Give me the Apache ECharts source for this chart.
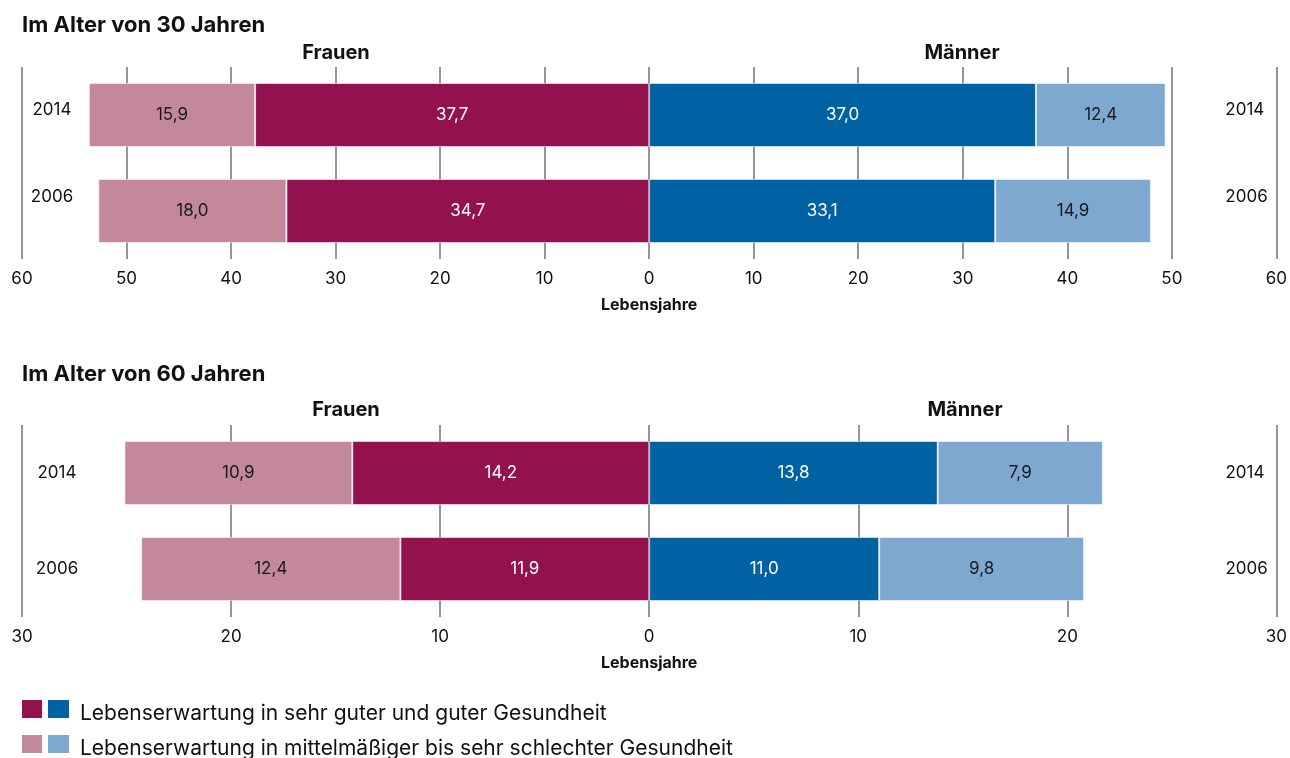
<!DOCTYPE html>
<html><head><meta charset="utf-8">
<script src="https://cdn.jsdelivr.net/npm/echarts@6/dist/echarts.min.js"></script>
<style>html,body{margin:0;padding:0;background:#fff}#c{width:1290px;height:758px}</style>
</head><body><div id="c"></div>
<script>
// ---- data ----
const years = ['2014', '2006'];
const women30Good = [37.7, 34.7];
const women30Poor = [15.9, 18.0];
const men30Good = [37.0, 33.1];
const men30Poor = [12.4, 14.9];
const women60Good = [14.2, 11.9];
const women60Poor = [10.9, 12.4];
const men60Good = [13.8, 11.0];
const men60Poor = [7.9, 9.8];
const titles = ['Im Alter von 30 Jahren', 'Im Alter von 60 Jahren'];
const sexes = ['Frauen', 'Männer'];
const axisName = 'Lebensjahre';
const legendLabels = ['Lebenserwartung in sehr guter und guter Gesundheit',
  'Lebenserwartung in mittelmäßiger bis sehr schlechter Gesundheit'];

// ---- style ----
const FONT = 'Inter';
const NUM = 17;
const C_FG = '#93114F', C_FP = '#C4889C', C_MG = '#0061A3', C_MP = '#7FA8D0';
const fmt = v => Math.abs(v).toFixed(1).replace('.', ',');
const neg = a => a.map(v => -v);

const chart = echarts.init(document.getElementById('c'));

function xAxis(grid, lim) {
  return {
    type: 'value', gridIndex: grid, min: -lim, max: lim, interval: 10,
    axisLine: {show: false}, axisTick: {show: false},
    axisLabel: {formatter: v => String(Math.abs(v)), fontFamily: FONT, fontSize: NUM, color: '#111', margin: 11},
    splitLine: {show: true, lineStyle: {color: '#959595', width: 2}},
    name: axisName, nameLocation: 'middle', nameGap: 38,
    nameTextStyle: {fontFamily: FONT, fontWeight: 'bold', fontSize: 16, color: '#111'}
  };
}
function yAxes(grid, leftMargin, richTop) {
  const lab = richTop
    ? {formatter: v => v === '2014' ? '{a|' + v + '}' : '{b|' + v + '}',
       rich: {a: {padding: [0, 0, 10, 0], fontFamily: FONT, fontSize: NUM, color: '#111'},
              b: {padding: [0, 0, 28, 0], fontFamily: FONT, fontSize: NUM, color: '#111'}}}
    : {};
  return [
    Object.assign({type: 'category', gridIndex: grid, data: years, inverse: true, position: 'left',
      axisLine: {show: false}, axisTick: {show: false}, splitLine: {show: false},
      axisLabel: Object.assign({inside: true, align: 'center', margin: leftMargin, fontFamily: FONT, fontSize: NUM, color: '#111'}, lab)}),
    Object.assign({type: 'category', gridIndex: grid, data: years, inverse: true, position: 'right',
      axisLine: {show: false}, axisTick: {show: false}, splitLine: {show: false},
      axisLabel: Object.assign({inside: true, align: 'left', margin: 51, fontFamily: FONT, fontSize: NUM, color: '#111'}, lab)})
  ];
}
function bar(name, data, color, lblColor, xi, yi, stack) {
  return {
    type: 'bar', name, data, stack, xAxisIndex: xi, yAxisIndex: yi,
    barCategoryGap: '33.3%',
    itemStyle: {color, borderColor: 'rgba(255,255,255,0.55)', borderWidth: 1},
    label: {show: true, position: 'inside', formatter: p => fmt(p.value), fontFamily: FONT, fontSize: NUM, color: lblColor},
    emphasis: {disabled: true}, silent: true
  };
}

const legendGraphics = [];
const legendColors = [[C_FG, C_MG], [C_FP, C_MP]];
legendLabels.forEach((t, i) => {
  const y = 700 + i * 35;
  legendGraphics.push({type: 'rect', left: 22, top: y, shape: {width: 20, height: 18}, style: {fill: legendColors[i][0]}});
  legendGraphics.push({type: 'rect', left: 48, top: y, shape: {width: 21, height: 18}, style: {fill: legendColors[i][1]}});
  legendGraphics.push({type: 'text', left: 80, top: y + 3, style: {text: t, fontFamily: FONT, fontSize: 21, fill: '#111'}});
});

const tStyle = s => ({fontFamily: FONT, fontWeight: 'bold', fontSize: s, color: '#111'});
chart.setOption({
  animation: false,
  backgroundColor: '#fff',
  title: [
    {text: titles[0], left: 22, top: 14, padding: 0, textStyle: tStyle(22)},
    {text: titles[1], left: 22, top: 363, padding: 0, textStyle: tStyle(22)},
    {text: sexes[0], left: 336, top: 43, textAlign: 'center', textStyle: tStyle(20), padding: 0},
    {text: sexes[1], left: 962, top: 43, textAlign: 'center', textStyle: tStyle(20), padding: 0},
    {text: sexes[0], left: 346, top: 400, textAlign: 'center', textStyle: tStyle(20), padding: 0},
    {text: sexes[1], left: 965, top: 400, textAlign: 'center', textStyle: tStyle(20), padding: 0}
  ],
  grid: [
    {left: 22, right: 12, top: 67, height: 192},
    {left: 22, right: 12, top: 425, height: 192}
  ],
  xAxis: [xAxis(0, 60), xAxis(1, 30)],
  yAxis: [...yAxes(0, 30, true), ...yAxes(1, 35, false)],
  series: [
    bar('F gut', neg(women30Good), C_FG, '#fff', 0, 0, 'a'),
    bar('F schlecht', neg(women30Poor), C_FP, '#1a1a1a', 0, 0, 'a'),
    bar('M gut', men30Good, C_MG, '#fff', 0, 0, 'a'),
    bar('M schlecht', men30Poor, C_MP, '#1a1a1a', 0, 0, 'a'),
    bar('F gut', neg(women60Good), C_FG, '#fff', 1, 2, 'b'),
    bar('F schlecht', neg(women60Poor), C_FP, '#1a1a1a', 1, 2, 'b'),
    bar('M gut', men60Good, C_MG, '#fff', 1, 2, 'b'),
    bar('M schlecht', men60Poor, C_MP, '#1a1a1a', 1, 2, 'b')
  ],
  graphic: legendGraphics
});
</script></body></html>
